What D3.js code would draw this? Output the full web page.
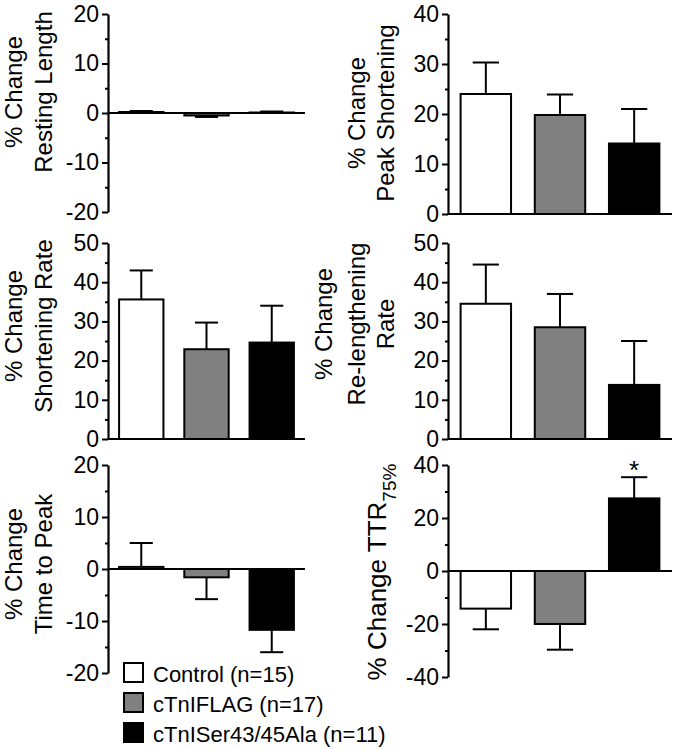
<!DOCTYPE html>
<html><head><meta charset="utf-8">
<script src="https://cdn.jsdelivr.net/npm/d3@7"></script>
<style>
body{margin:0;background:#fff;}
svg{display:block;font-family:Arial,"Liberation Sans",Helvetica,sans-serif;}
</style></head>
<body><svg id="c" width="675" height="750"></svg>
<script>
// ---- data ----
const groups = ["Control (n=15)", "cTnIFLAG (n=17)", "cTnISer43/45Ala (n=11)"];
const restingLength      = [0.2, -0.5, 0.1];
const restingLengthErr   = [0.2, 0.3, 0.2];
const peakShortening     = [24.0, 19.8, 14.1];
const peakShorteningErr  = [6.3, 4.1, 6.9];
const shorteningRate     = [35.6, 22.9, 24.6];
const shorteningRateErr  = [7.4, 6.8, 9.4];
const relengtheningRate    = [34.5, 28.5, 13.8];
const relengtheningRateErr = [10.0, 8.5, 11.2];
const timeToPeak         = [0.4, -1.6, -11.7];
const timeToPeakErr      = [4.6, 4.2, 4.3];
const ttr75              = [-14.2, -20.0, 27.4];
const ttr75Err           = [7.8, 9.7, 8.0];
const significant        = ["", "", "*"];
const ticksA = [-20, -10, 0, 10, 20];
const ticksB = [0, 10, 20, 30, 40];
const ticksC = [0, 10, 20, 30, 40, 50];
const ticksD = [-40, -20, 0, 20, 40];

// ---- styles ----
const fills = ["#ffffff", "#808080", "#000000"];
const svg = d3.select("#c");

const panels = [
  {vals: restingLength, errs: restingLengthErr, ticks: ticksA, minorStep: 5,
   x: [108, 305], y: [212, 14], title: [["% Change", 22], ["Resting Length", 52]], tc: 92},
  {vals: peakShortening, errs: peakShorteningErr, ticks: ticksB, minorStep: 5,
   x: [448, 672], y: [214, 14], title: [["% Change", 365], ["Peak Shortening", 394]], tc: 113},
  {vals: shorteningRate, errs: shorteningRateErr, ticks: ticksC, minorStep: 5,
   x: [108, 305], y: [439, 243], title: [["% Change", 22], ["Shortening Rate", 52]], tc: 326},
  {vals: relengtheningRate, errs: relengtheningRateErr, ticks: ticksC, minorStep: 5,
   x: [448, 672], y: [439, 243], title: [["% Change", 332], ["Re-lengthening", 365], ["Rate", 394]], tc: 324},
  {vals: timeToPeak, errs: timeToPeakErr, ticks: ticksA, minorStep: 5,
   x: [108, 305], y: [673, 465], title: [["% Change", 22], ["Time to Peak", 52]], tc: 564},
  {vals: ttr75, errs: ttr75Err, ticks: ticksD, minorStep: 10,
   x: [448, 672], y: [677, 465], title: null, tc: 572, marks: significant}
];

panels.forEach((p, pi) => {
  const g = svg.append("g");
  const lo = d3.min(p.ticks), hi = d3.max(p.ticks);
  const y = d3.scaleLinear().domain([lo, hi]).range(p.y);
  const x = d3.scaleBand().domain(d3.range(groups.length)).range(p.x)
      .paddingInner(0.32).paddingOuter(0.17);

  // minor ticks
  const minor = d3.range(lo, hi + 0.001, p.minorStep).filter(v => !p.ticks.includes(v));
  g.append("g").attr("transform", `translate(${p.x[0]},0)`)
    .call(d3.axisLeft(y).tickValues(minor).tickSize(3).tickFormat(""))
    .call(s => s.select(".domain").remove())
    .selectAll("line").attr("stroke", "#000").attr("stroke-width", 2);

  // major axis
  const ax = g.append("g").attr("transform", `translate(${p.x[0]},0)`)
    .call(d3.axisLeft(y).tickValues(p.ticks).tickSize(6).tickSizeOuter(0).tickPadding(3)
      .tickFormat(d => String(d)));
  ax.select(".domain").attr("stroke", "#000").attr("stroke-width", 2.2);
  ax.selectAll("line").attr("stroke", "#000").attr("stroke-width", 2);
  ax.selectAll("text").attr("font-size", 23).attr("fill", "#000")
    .attr("font-family", "Arial, 'Liberation Sans', sans-serif");

  // error bars (away from zero)
  const capW = x.bandwidth() * 0.52;
  g.selectAll(".err").data(p.vals).enter().append("g").each(function(v, i) {
    const e = p.errs[i];
    const tip = v >= 0 ? v + e : v - e;
    const cx = x(i) + x.bandwidth() / 2;
    const s = d3.select(this);
    s.append("line").attr("x1", cx).attr("x2", cx).attr("y1", y(v)).attr("y2", y(tip))
      .attr("stroke", "#000").attr("stroke-width", 2);
    s.append("line").attr("x1", cx - capW / 2).attr("x2", cx + capW / 2)
      .attr("y1", y(tip)).attr("y2", y(tip)).attr("stroke", "#000").attr("stroke-width", 2);
  });

  // bars
  g.selectAll(".bar").data(p.vals).enter().append("rect")
    .attr("x", (d, i) => x(i)).attr("width", x.bandwidth())
    .attr("y", d => y(Math.max(0, d)))
    .attr("height", d => Math.abs(y(d) - y(0)))
    .attr("fill", (d, i) => fills[i]).attr("stroke", "#000").attr("stroke-width", 2);

  // zero line
  g.append("line").attr("x1", p.x[0]).attr("x2", p.x[1]).attr("y1", y(0)).attr("y2", y(0))
    .attr("stroke", "#000").attr("stroke-width", 2.2);

  // significance marks
  if (p.marks) {
    p.marks.forEach((m, i) => {
      if (!m) return;
      const v = p.vals[i], tip = v + p.errs[i];
      g.append("text").attr("x", x(i) + x.bandwidth() / 2).attr("y", y(tip) + 2)
        .attr("text-anchor", "middle").attr("font-size", 26)
        .text(m);
    });
  }

  // titles
  if (p.title) {
    p.title.forEach(([t, bx]) => {
      g.append("text").attr("transform", `translate(${bx},${p.tc}) rotate(-90)`)
        .attr("text-anchor", "middle").attr("font-size", 24).text(t);
    });
  } else {
    const t = g.append("text").attr("transform", `translate(386,${p.tc}) rotate(-90)`)
      .attr("text-anchor", "middle").attr("font-size", 26);
    t.append("tspan").text("% Change TTR");
    t.append("tspan").attr("dy", 10).attr("font-size", 19).text("75%");
  }
});

// legend
const leg = svg.append("g").attr("transform", "translate(123,662)");
groups.forEach((name, i) => {
  leg.append("rect").attr("x", 1).attr("y", i * 30 + 1).attr("width", 19).attr("height", 19)
    .attr("fill", fills[i]).attr("stroke", "#000").attr("stroke-width", 2);
  leg.append("text").attr("x", 30).attr("y", i * 30 + 20).attr("font-size", 22).text(name);
});
</script>
</body></html>
